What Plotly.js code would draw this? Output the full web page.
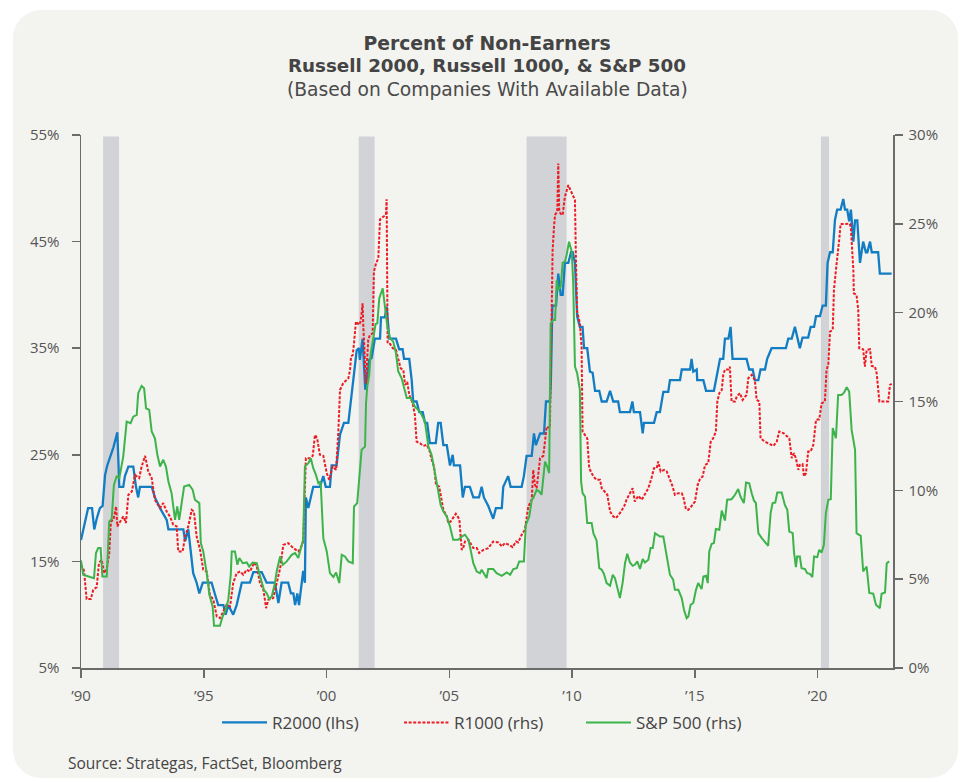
<!DOCTYPE html>
<html>
<head>
<meta charset="utf-8">
<script src="https://cdn.plot.ly/plotly-3.0.1.min.js"></script>
<style>
  html, body { margin: 0; padding: 0; background: #ffffff; }
  #card { position: absolute; left: 13px; top: 10px; width: 945px; height: 768px; background: #f3f3ef; border-radius: 28px; }
  #chart { position: absolute; left: 0; top: 0; width: 961px; height: 782px; }
</style>
</head>
<body>
<div id="card"></div>
<div id="chart"></div>
<script>
// ---- Data (decimal years, percent) ----
const r2000Years = [
1990.00,1990.29,1990.45,1990.54,1990.64,1990.77,1990.88,1990.98,1991.07,1991.21,
1991.32,1991.48,1991.56,1991.72,1991.79,1991.93,1992.13,1992.24,1992.33,1992.40,
1992.88,1993.01,1993.22,1993.49,1993.56,1994.17,1994.24,1994.37,1994.47,1994.57,
1994.71,1994.82,1994.96,1995.32,1995.46,1995.59,1995.80,1995.89,1996.00,1996.20,
1996.34,1996.55,1996.88,1997.02,1997.36,1997.56,1997.90,1998.04,1998.17,1998.44,
1998.55,1998.65,1998.72,1998.81,1998.88,1998.99,1999.05,1999.12,1999.16,1999.26,
1999.46,1999.73,1999.87,1999.97,2000.14,2000.21,2000.41,2000.55,2000.71,2000.89,
2000.99,2001.12,2001.23,2001.32,2001.36,2001.47,2001.53,2001.58,2001.66,2001.74,
2001.84,2001.97,2002.18,2002.22,2002.38,2002.45,2002.56,2002.83,2002.96,2003.10,
2003.16,2003.37,2003.47,2003.53,2003.67,2003.78,2003.92,2004.01,2004.10,2004.21,
2004.45,2004.55,2004.65,2004.76,2004.90,2005.03,2005.14,2005.19,2005.44,2005.55,
2005.64,2005.84,2005.98,2006.21,2006.32,2006.41,2006.59,2006.79,2006.90,2007.14,
2007.20,2007.40,2007.50,2007.95,2008.04,2008.15,2008.36,2008.45,2008.53,2008.70,
2008.86,2008.94,2009.10,2009.14,2009.20,2009.35,2009.44,2009.54,2009.62,2009.71,
2009.85,2009.96,2010.03,2010.12,2010.21,2010.32,2010.43,2010.49,2010.62,2010.73,
2010.84,2010.94,2011.11,2011.21,2011.41,2011.55,2011.68,2011.88,2011.95,2012.36,
2012.46,2012.52,2012.77,2012.84,2012.88,2012.93,2013.34,2013.45,2013.58,2013.72,
2013.92,2013.99,2014.40,2014.47,2014.81,2014.87,2014.94,2015.08,2015.10,2015.35,
2015.46,2015.78,2015.89,2016.03,2016.16,2016.23,2016.37,2016.46,2016.54,2017.11,
2017.22,2017.36,2017.45,2017.59,2017.68,2017.86,2017.95,2018.13,2018.71,2018.81,
2018.95,2019.08,2019.28,2019.39,2019.62,2019.72,2019.86,2019.94,2020.10,2020.21,
2020.34,2020.41,2020.51,2020.62,2020.71,2020.80,2020.94,2021.05,2021.12,2021.21,
2021.29,2021.36,2021.46,2021.53,2021.62,2021.73,2021.86,2021.97,2022.03,2022.14,
2022.21,2022.47,2022.54,2023.02];
const r2000Values = [
17,20,20,18,19,20,20.2,23.1,24,25,
25.7,27.1,22,22,23,23.9,23.9,22,21,22,
22,21,20,18.9,18,18,16.9,18,16.1,13.9,
13,12,13,13,11.9,10.9,10.9,10,10.9,10,
10.9,13,13,14,14,13,13,11.1,13,13,
12,12,10.9,12,10.9,13.3,14.1,13,21,20,
22,22,23,22,22,24,24,26.9,28,28,
30,32,34.8,35,33.9,35.9,32.3,31.1,32.3,33.9,
34.1,35.9,35.9,37.9,37.9,38.9,35.9,35.9,34.9,34.9,
34,34,32,30,30,29,29,28,28,26.1,
26.1,28,28,25.9,25.9,24,25,24,24,21,
22,22,21,21,22,21,20.2,19,20,20,
22,23,22,22,23,24.9,24.9,27,25.9,27,
27,30,30,32,39,39,42,40,40,43,
43,44,44,43,38,37,37,35,35,32.8,
32.7,31,31,30,30,31,30,30,29,29,
30,29,29,28,27,28,28,29,29,30.9,
30.9,32,32,33,33,34,32.8,33,32,32,
31,31,32.2,34,34,35.9,35.9,37,34,34,
33,33,32,32,33,33,34,35,35,35.9,
35.9,37,35,36,36,37,37,38,38,39,
39,43,44,44,47,48,48,49,48,48,
46.9,48,45,47,47,43,45,44,44,45,
44,44,42,42];

const r1000Years = [
1990.00,1990.12,1990.23,1990.40,1990.50,1990.64,1990.73,1990.84,1990.95,1991.05,
1991.15,1991.22,1991.32,1991.43,1991.48,1991.59,1991.72,1991.83,1991.93,1992.07,
1992.20,1992.37,1992.47,1992.61,1992.74,1992.88,1993.01,1993.22,1993.35,1993.49,
1993.62,1993.76,1993.90,1993.96,1994.14,1994.24,1994.37,1994.51,1994.60,1994.71,
1994.85,1994.98,1995.12,1995.25,1995.39,1995.53,1995.66,1995.80,1995.93,1996.07,
1996.20,1996.34,1996.48,1996.61,1996.75,1996.88,1997.06,1997.16,1997.29,1997.43,
1997.54,1997.63,1997.83,1997.97,1998.11,1998.24,1998.44,1998.65,1998.85,1998.95,
1999.05,1999.16,1999.33,1999.44,1999.53,1999.62,1999.73,1999.87,2000.01,2000.11,
2000.25,2000.39,2000.48,2000.55,2000.68,2000.89,2000.96,2001.00,2001.07,2001.12,
2001.20,2001.32,2001.39,2001.43,2001.47,2001.50,2001.57,2001.61,2001.66,2001.70,
2001.77,2001.88,2001.93,2002.02,2002.11,2002.18,2002.31,2002.42,2002.45,2002.49,
2002.59,2002.70,2002.83,2002.92,2003.02,2003.13,2003.20,2003.29,2003.37,2003.51,
2003.60,2003.67,2003.81,2003.94,2004.08,2004.19,2004.28,2004.38,2004.46,2004.59,
2004.65,2004.76,2004.90,2004.96,2005.06,2005.16,2005.27,2005.41,2005.51,2005.57,
2005.64,2005.78,2005.87,2005.98,2006.12,2006.22,2006.39,2006.59,2006.79,2007.00,
2007.14,2007.27,2007.44,2007.58,2007.72,2007.81,2007.95,2008.08,2008.22,2008.36,
2008.42,2008.49,2008.56,2008.63,2008.70,2008.83,2008.90,2008.97,2009.10,2009.17,
2009.21,2009.27,2009.31,2009.40,2009.44,2009.48,2009.55,2009.62,2009.71,2009.85,
2009.99,2010.12,2010.16,2010.21,2010.32,2010.39,2010.43,2010.53,2010.62,2010.70,
2010.87,2011.00,2011.14,2011.21,2011.34,2011.44,2011.55,2011.68,2011.79,2011.95,
2012.12,2012.23,2012.36,2012.47,2012.56,2012.70,2012.84,2012.97,2013.11,2013.24,
2013.34,2013.45,2013.51,2013.61,2013.75,2013.86,2013.99,2014.10,2014.19,2014.33,
2014.47,2014.53,2014.64,2014.74,2014.91,2015.01,2015.12,2015.21,2015.32,2015.42,
2015.55,2015.65,2015.75,2015.86,2015.92,2016.00,2016.10,2016.16,2016.23,2016.37,
2016.43,2016.50,2016.64,2016.71,2016.84,2016.95,2017.11,2017.18,2017.32,2017.45,
2017.52,2017.63,2017.68,2017.86,2018.06,2018.20,2018.34,2018.44,2018.61,2018.74,
2018.85,2018.95,2019.04,2019.12,2019.22,2019.28,2019.39,2019.45,2019.53,2019.62,
2019.72,2019.83,2019.94,2020.07,2020.17,2020.30,2020.37,2020.44,2020.51,2020.62,
2020.67,2020.75,2020.80,2020.89,2020.94,2021.32,2021.36,2021.46,2021.48,2021.59,
2021.66,2021.70,2021.86,2021.93,2022.00,2022.14,2022.21,2022.34,2022.41,2022.52,
2022.88,2022.95,2023.02];
const r1000Values = [
5.81,5.5,3.88,3.88,4.4,4.55,5.9,6.09,5.34,5.57,
6.47,8.25,8.34,9.09,7.97,8.25,8.53,8.16,9.75,9.93,
10.87,10.69,11.34,11.94,11.06,10.69,9.47,9.0,9.28,8.81,
8.53,8.06,7.97,6.56,6.56,7.4,7.97,8.9,8.81,7.4,
6.65,5.53,5.43,4.12,3.84,2.9,2.81,3.18,3.56,3.46,
4.78,5.34,5.43,5.25,5.53,5.43,5.94,5.71,4.78,4.4,
3.37,3.84,3.94,4.78,5.6,6.93,7.03,6.75,6.56,6.75,
7.12,11.81,11.81,11.94,13.12,12.93,12.0,11.94,10.97,10.59,
11.34,11.15,13.22,15.65,16.03,16.31,16.78,17.53,17.62,18.28,
19.5,19.31,19.5,19.97,20.53,19.2,16.8,16.0,17.5,18.47,
18.75,18.84,22.3,22.78,23.06,25.25,25.4,25.5,26.38,18.28,
18.24,18.0,17.9,17.34,16.87,16.78,15.93,16.1,15.37,14.9,
14.25,12.74,12.65,12.5,12.56,12.28,11.72,11.34,10.31,10.21,
9.65,8.9,8.53,8.16,8.25,8.44,8.68,8.38,6.65,6.75,
7.12,7.22,7.03,6.75,6.75,6.47,6.65,6.75,7.12,7.07,
6.84,7.03,6.93,6.8,7.12,7.07,7.5,7.78,9.09,9.47,
11.15,10.31,10.12,11.15,11.81,11.94,12.74,13.59,13.5,21.1,
23.5,24.9,25.5,25.7,28.4,25.7,25.55,25.5,26.52,27.18,
26.7,26.34,22.96,20.06,19.4,18.09,13.31,13.12,12.93,11.25,
10.78,10.59,10.59,10.12,9.93,9.75,8.81,8.53,8.44,8.72,
9.09,9.5,9.84,10.12,9.37,9.69,9.47,9.75,10.12,10.69,
11.25,11.25,11.62,11.06,11.15,11.06,10.59,10.21,9.75,9.84,
9.84,9.65,8.94,8.9,9.18,9.37,10.31,10.63,10.78,11.43,
11.53,12.74,12.93,13.31,15.0,15.47,15.65,16.5,16.8,16.8,
16.96,15.0,15.0,15.28,15.47,15.09,15.37,16.31,16.5,16.2,
15.09,15.0,12.93,12.74,12.6,12.5,12.74,13.31,13.22,13.03,
12.93,11.81,12.09,11.81,11.15,11.43,11.47,10.78,10.97,12.18,
12.18,12.56,13.97,14.0,14.9,15.0,16.8,17.06,18.93,19.03,
21.28,22.4,22.96,24.19,24.99,25.0,24.75,22.4,21.09,21.0,
20.15,18.0,17.94,16.96,17.9,17.94,17.0,16.96,16.59,15.0,
15.0,15.93,16.0];

const sp500Years = [
1990.00,1990.09,1990.37,1990.53,1990.61,1990.70,1990.80,1990.87,1991.05,1991.15,
1991.25,1991.34,1991.45,1991.56,1991.72,1991.86,1992.02,1992.13,1992.27,1992.33,
1992.47,1992.57,1992.65,1992.78,1992.88,1993.01,1993.11,1993.22,1993.35,1993.46,
1993.56,1993.69,1993.83,1993.92,1994.00,1994.10,1994.20,1994.41,1994.55,1994.64,
1994.82,1994.88,1994.98,1995.12,1995.23,1995.36,1995.42,1995.66,1995.77,1995.87,
1996.00,1996.10,1996.14,1996.27,1996.37,1996.45,1996.59,1996.75,1996.85,1996.99,
1997.16,1997.26,1997.36,1997.45,1997.56,1997.67,1997.77,1997.90,1997.97,1998.11,
1998.22,1998.38,1998.58,1998.72,1998.85,1998.95,1999.05,1999.12,1999.26,1999.36,
1999.46,1999.57,1999.67,1999.76,1999.87,2000.01,2000.14,2000.28,2000.39,2000.52,
2000.62,2000.75,2000.89,2001.07,2001.12,2001.25,2001.36,2001.43,2001.57,2001.61,
2001.66,2001.74,2001.80,2001.91,2002.00,2002.07,2002.15,2002.29,2002.38,2002.48,
2002.59,2002.72,2002.83,2002.92,2003.06,2003.16,2003.27,2003.43,2003.60,2003.81,
2004.01,2004.15,2004.28,2004.42,2004.55,2004.65,2004.76,2004.90,2005.03,2005.16,
2005.37,2005.51,2005.64,2005.78,2005.87,2005.98,2006.12,2006.25,2006.32,2006.41,
2006.52,2006.59,2006.79,2006.93,2007.14,2007.34,2007.48,2007.61,2007.75,2007.85,
2008.04,2008.12,2008.26,2008.36,2008.42,2008.56,2008.67,2008.76,2008.83,2008.90,
2008.99,2009.07,2009.13,2009.24,2009.31,2009.38,2009.44,2009.54,2009.62,2009.71,
2009.78,2009.88,2009.99,2010.05,2010.12,2010.21,2010.32,2010.37,2010.43,2010.53,
2010.62,2010.80,2010.87,2011.00,2011.11,2011.21,2011.30,2011.41,2011.55,2011.66,
2011.75,2011.84,2011.95,2012.06,2012.16,2012.25,2012.36,2012.47,2012.56,2012.66,
2012.77,2012.88,2012.97,2013.11,2013.20,2013.29,2013.38,2013.58,2013.72,2013.86,
2013.99,2014.12,2014.19,2014.33,2014.47,2014.56,2014.67,2014.74,2014.83,2014.94,
2015.05,2015.14,2015.28,2015.35,2015.46,2015.53,2015.59,2015.69,2015.78,2015.86,
2016.00,2016.10,2016.23,2016.32,2016.50,2016.64,2016.77,2016.87,2017.00,2017.09,
2017.22,2017.32,2017.41,2017.49,2017.59,2017.73,2017.86,2017.99,2018.09,2018.17,
2018.28,2018.36,2018.54,2018.67,2018.77,2018.85,2018.99,2019.04,2019.12,2019.17,
2019.28,2019.35,2019.49,2019.58,2019.69,2019.79,2019.86,2019.99,2020.07,2020.17,
2020.26,2020.34,2020.44,2020.54,2020.62,2020.75,2020.84,2020.98,2021.08,2021.19,
2021.29,2021.39,2021.53,2021.59,2021.76,2021.86,2022.00,2022.11,2022.27,2022.38,
2022.54,2022.61,2022.75,2022.82,2022.92];
const sp500Values = [
6.05,5.25,5.12,5.06,6.47,6.75,6.75,5.15,5.15,8.25,
8.38,10.31,10.78,10.69,11.9,13.87,13.78,14.15,14.25,15.47,
15.88,15.75,14.62,14.53,13.31,12.93,12.0,11.34,11.72,11.34,
10.5,9.84,8.34,9.09,8.34,9.37,10.21,10.31,10.03,9.47,
9.28,7.03,6.56,5.34,4.12,3.46,2.38,2.38,2.9,3.18,
3.84,5.25,6.56,6.56,5.81,6.19,5.9,5.94,5.71,5.94,
5.9,5.34,4.78,4.4,4.22,3.88,4.03,4.78,5.43,6.28,
5.81,6.0,6.37,6.47,6.19,6.65,7.22,11.34,11.53,11.81,
11.25,10.87,10.4,10.5,7.31,6.56,5.34,5.12,5.38,4.78,
6.37,6.28,6.0,5.9,9.09,9.28,11.15,12.28,12.46,14.9,
15.84,16.5,17.7,18.65,19.36,19.4,20.81,21.37,20.34,19.21,
18.56,18.37,17.72,16.7,16.31,15.84,15.19,15.19,14.71,14.43,
13.87,12.46,12.0,10.97,10.03,9.18,8.81,8.53,7.97,7.22,
7.22,7.4,7.5,7.22,6.65,5.9,5.43,5.34,5.53,5.34,
5.06,5.57,5.57,5.34,5.19,5.38,5.25,5.57,5.62,6.0,
6.0,8.06,8.53,9.47,9.56,10.03,9.93,9.75,10.59,11.62,
11.34,10.97,19.4,19.59,19.59,21.84,21.28,21.46,22.81,22.87,
23.25,23.99,23.43,21.65,16.96,16.59,15.65,10.5,9.84,9.65,
8.16,8.16,7.59,7.18,5.62,5.53,5.3,4.78,4.63,5.25,
5.06,4.5,3.94,4.78,5.9,6.43,5.94,5.75,5.81,6.0,
5.57,6.13,5.94,6.09,6.75,6.75,7.59,7.4,7.4,6.28,
5.25,4.97,4.4,4.4,3.94,3.28,2.81,2.9,3.56,3.66,
4.4,4.78,4.44,5.15,5.19,4.78,6.56,6.99,7.03,7.82,
7.78,8.86,8.3,9.47,9.5,9.75,10.07,9.62,9.28,10.44,
10.4,9.84,9.43,9.28,7.59,7.31,7.07,6.88,8.72,9.28,
9.31,9.88,9.88,9.18,8.9,7.68,7.59,6.56,5.68,6.28,
6.28,5.62,5.57,5.34,5.3,5.12,6.28,6.24,6.65,6.5,
6.93,8.72,9.47,9.5,13.5,12.93,15.37,15.37,15.5,15.8,
15.56,13.4,12.28,7.59,7.44,5.43,5.71,4.22,4.18,3.56,
3.37,4.18,4.25,5.9,6.0];

const recessionStart = [1990.90, 2001.31, 2008.15, 2020.14];
const recessionEnd   = [1991.55, 2001.96, 2009.78, 2020.47];

const xTickVals = [1990, 1995, 2000, 2005, 2010, 2015, 2020];
const xTickText = ["\u201990", "\u201995", "\u201900", "\u201905", "\u201910", "\u201915", "\u201920"];

const seriesNames = ["R2000 (lhs)", "R1000 (rhs)", "S&P 500 (rhs)"];
const titleLines = ["Percent of Non-Earners", "Russell 2000, Russell 1000, & S&P 500", "(Based on Companies With Available Data)"];
const sourceText = "Source: Strategas, FactSet, Bloomberg";

// ---- Chart ----
const FONT = "Open Sans, Lato, sans-serif";
const TFONT = "DejaVu Sans, Open Sans, sans-serif";
const traces = [
  { x: r2000Years, y: r2000Values, name: seriesNames[0], type: "scatter", mode: "lines",
    line: { color: "#137dc4", width: 2.3 }, yaxis: "y" },
  { x: r1000Years, y: r1000Values, name: seriesNames[1], type: "scatter", mode: "lines",
    line: { color: "#ec1c24", width: 2, dash: "3px,1.6px" }, yaxis: "y2" },
  { x: sp500Years, y: sp500Values, name: seriesNames[2], type: "scatter", mode: "lines",
    line: { color: "#3cb44b", width: 2 }, yaxis: "y2" }
];

const shapes = recessionStart.map((s, i) => ({
  type: "rect", xref: "x", yref: "paper", x0: s, x1: recessionEnd[i], y0: 0, y1: 0.997,
  fillcolor: "#d2d3d6", line: { width: 0 }, layer: "below"
}));

const axisCommon = {
  showgrid: false, zeroline: false, showline: true, linecolor: "#6b6b6b", linewidth: 1.5,
  ticks: "outside", ticklen: 8, tickwidth: 1.5, tickcolor: "#6b6b6b",
  tickfont: { family: FONT, size: 15, color: "#555555" }
};

const layout = {
  width: 961, height: 782,
  paper_bgcolor: "rgba(0,0,0,0)", plot_bgcolor: "rgba(0,0,0,0)",
  margin: { l: 81, r: 68, t: 135, b: 114 },
  showlegend: true,
  title: {
    text: "<b>" + titleLines[0] + "</b>",
    font: { family: TFONT, size: 18.8, color: "#444444" },
    x: 0.5, xanchor: "center", xref: "paper",
    y: 1 - 43 / 782, yanchor: "middle", yref: "container"
  },
  xaxis: Object.assign({}, axisCommon, {
    range: [1990, 2023.075], tickmode: "array", tickvals: xTickVals, ticktext: xTickText,
    ticklabelstandoff: 5
  }),
  yaxis: Object.assign({}, axisCommon, {
    range: [5, 55], tickmode: "linear", tick0: 5, dtick: 10, ticksuffix: "%",
    ticklabelstandoff: 9
  }),
  yaxis2: Object.assign({}, axisCommon, {
    range: [0, 30], tickmode: "linear", tick0: 0, dtick: 5, ticksuffix: "%",
    overlaying: "y", side: "right", ticklabelstandoff: 3
  }),
  legend: {
    orientation: "h", x: 0.1675, xanchor: "left", y: -0.103, yanchor: "middle",
    font: { family: FONT, size: 17, color: "#444444" },
    bgcolor: "rgba(0,0,0,0)", itemwidth: 45, entrywidth: 122, entrywidthmode: "pixels",
    traceorder: "normal"
  },
  shapes: shapes,
  annotations: [
    { text: "<b>" + titleLines[1] + "</b>", showarrow: false,
      xref: "paper", yref: "paper", x: 0.5, xanchor: "center", y: (668 - 66) / 533, yanchor: "middle",
      font: { family: TFONT, size: 18.3, color: "#444444" } },
    { text: titleLines[2], showarrow: false,
      xref: "paper", yref: "paper", x: 0.5, xanchor: "center", y: (668 - 89) / 533, yanchor: "middle",
      font: { family: TFONT, size: 18.7, color: "#4a4a4a" } },
    { text: sourceText, showarrow: false,
      xref: "paper", yref: "paper", x: -0.0185, xanchor: "left", y: -0.178, yanchor: "middle",
      font: { family: FONT, size: 15.5, color: "#444444" } }
  ],
  hovermode: false
};

Plotly.newPlot("chart", traces, layout, { staticPlot: true, displayModeBar: false });
</script>
</body>
</html>
